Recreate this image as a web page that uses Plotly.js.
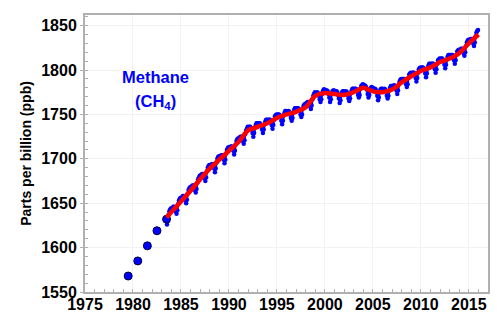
<!DOCTYPE html>
<html>
<head>
<meta charset="utf-8">
<script src="https://cdn.plot.ly/plotly-3.0.1.min.js"></script>
<style>html,body{margin:0;padding:0;background:#fff;}#chart{width:503px;height:326px;}</style>
</head>
<body>
<div id="chart"></div>
<script>
// Early annual measurements
const annualYears = [1979.5, 1980.5, 1981.5, 1982.5, 1983.5];
const annualCH4 = [1568, 1585, 1602, 1619, 1632];

// Monthly global CH4 (ppb), starting July 1983
const monthlyStartYear = 1983;
const monthlyStartMonth = 7;
const monthlyCH4 = [
  1626,1630,1637,1641,1643,1644,
  1644,1645,1646,1646,1644,1641,1638,1642,1649,1653,1655,1656,
  1656,1657,1658,1658,1656,1653,1650,1654,1661,1665,1667,1668,
  1668,1669,1670,1670,1668,1665,1662,1666,1673,1677,1679,1681,
  1681,1682,1683,1683,1681,1678,1675,1679,1686,1690,1692,1693,
  1692,1693,1694,1694,1692,1689,1685,1689,1696,1700,1702,1703,
  1702,1703,1704,1704,1702,1699,1695,1699,1706,1710,1712,1713,
  1712,1713,1714,1714,1712,1709,1705,1709,1716,1720,1722,1723,
  1723,1724,1725,1725,1723,1720,1717,1721,1728,1732,1734,1736,
  1735,1736,1736,1735,1733,1729,1725,1729,1735,1738,1740,1740,
  1739,1740,1740,1739,1737,1733,1729,1733,1739,1742,1744,1744,
  1743,1744,1744,1744,1741,1738,1734,1738,1744,1748,1749,1750,
  1749,1750,1750,1749,1747,1743,1739,1743,1749,1752,1754,1754,
  1753,1753,1754,1753,1750,1746,1743,1746,1752,1755,1757,1757,
  1756,1757,1757,1756,1754,1750,1747,1750,1757,1760,1761,1762,
  1762,1763,1764,1764,1762,1759,1756,1760,1767,1771,1773,1775,
  1774,1774,1775,1774,1771,1767,1764,1767,1773,1776,1778,1778,
  1777,1777,1777,1776,1773,1769,1764,1767,1773,1776,1777,1777,
  1776,1776,1776,1775,1772,1768,1763,1766,1772,1775,1776,1776,
  1775,1775,1776,1775,1772,1768,1765,1768,1774,1777,1779,1779,
  1778,1779,1779,1778,1776,1772,1769,1772,1779,1782,1783,1784,
  1783,1783,1782,1781,1778,1773,1769,1772,1777,1780,1781,1780,
  1779,1779,1779,1778,1775,1771,1766,1769,1775,1778,1779,1779,
  1778,1778,1779,1778,1775,1771,1768,1771,1777,1780,1782,1782,
  1781,1782,1783,1782,1780,1777,1773,1777,1784,1787,1789,1790,
  1789,1790,1790,1790,1788,1784,1781,1784,1791,1795,1796,1797,
  1796,1797,1797,1797,1794,1791,1787,1791,1797,1801,1802,1803,
  1802,1803,1803,1802,1800,1796,1792,1796,1802,1805,1807,1807,
  1806,1807,1807,1807,1804,1801,1797,1801,1807,1811,1812,1813,
  1812,1813,1813,1812,1810,1806,1802,1806,1812,1815,1817,1817,
  1816,1817,1817,1817,1814,1811,1807,1811,1817,1821,1822,1823,
  1822,1823,1824,1824,1822,1819,1816,1820,1827,1831,1833,1834,
  1833,1834,1835,1835,1833,1830,1827,1831,1838,1842,1844,1845
];

// Smoothed trend (red)
const trendYears = [1983.5,1984,1985,1986,1987,1988,1989,1990,1991,1992,1993,1994,1995,1996,1997,1998,1999,2000,2001,2002,2003,2004,2005,2006,2007,2008,2009,2010,2011,2012,2013,2014,2015,2016];
const trendCH4 = [1634,1640,1652,1664,1677,1689,1699,1709,1719,1732,1736,1740,1746,1750,1753,1758,1771,1774,1773,1772,1775,1780,1776,1775,1778,1786,1793,1799,1803,1809,1813,1819,1830,1840];

const xTickVals = [1975,1980,1985,1990,1995,2000,2005,2010,2015];
const yTickVals = [1550,1600,1650,1700,1750,1800,1850];

const monthlyX = monthlyCH4.map((v, i) => monthlyStartYear + (monthlyStartMonth - 1 + i + 0.5) / 12);

const blue = '#0000ff';
const fam = 'Liberation Sans, Arial, sans-serif';
const traces = [
  {
    x: monthlyX, y: monthlyCH4, type: 'scatter', mode: 'lines+markers',
    line: {color: blue, width: 2},
    marker: {color: blue, size: 4.5},
    hoverinfo: 'skip', showlegend: false
  },
  {
    x: annualYears, y: annualCH4, type: 'scatter', mode: 'markers',
    marker: {color: blue, size: 8, line: {color: '#00003a', width: 1}},
    showlegend: false
  },
  {
    x: trendYears, y: trendCH4, type: 'scatter', mode: 'lines',
    line: {color: '#ff0000', width: 4.5, shape: 'spline', smoothing: 0.8},
    showlegend: false
  }
];

const axisCommon = {
  showline: true, linecolor: '#b0b0b0', linewidth: 2, mirror: true,
  ticklen: 3, tickcolor: '#b0b0b0', tickwidth: 1,
  showgrid: true, gridcolor: '#f2f2f2', gridwidth: 1,
  zeroline: false,
  tickfont: {family: fam, size: 16, color: '#000', weight: 700}
};

const layout = {
  width: 503, height: 326,
  margin: {l: 85, r: 15, t: 15, b: 34},
  paper_bgcolor: '#fff', plot_bgcolor: '#fff',
  font: {family: fam},
  xaxis: Object.assign({}, axisCommon, {
    ticks: 'inside', ticklabelstandoff: -3,
    range: [1975, 2017], tickvals: xTickVals, ticktext: xTickVals.map(v => '<b>' + v + '</b>'),
    minor: {dtick: 1, ticks: 'inside', ticklen: 3, tickcolor: '#b0b0b0', showgrid: false}
  }),
  yaxis: Object.assign({}, axisCommon, {
    ticks: 'outside',
    range: [1550, 1862], tickvals: yTickVals, ticktext: yTickVals.map(v => '<b>' + v + '</b>'),
    minor: {dtick: 10, ticks: 'inside', ticklen: 3, tickcolor: '#b0b0b0', showgrid: false},
    title: {text: '<b>Parts per billion (ppb)</b>', standoff: 6,
      font: {family: fam, size: 14, color: '#000', weight: 700}}
  }),
  annotations: [
    {x: 1982.35, y: 1792, xref: 'x', yref: 'y', text: '<b>Methane</b>', showarrow: false,
     font: {family: fam, size: 16.5, color: blue}},
    {x: 1982.35, y: 1764, xref: 'x', yref: 'y', text: '<b>(CH<sub>4</sub>)</b>', showarrow: false,
     font: {family: fam, size: 16.5, color: blue}}
  ]
};

Plotly.newPlot('chart', traces, layout, {staticPlot: true, displayModeBar: false});
</script>
</body>
</html>
